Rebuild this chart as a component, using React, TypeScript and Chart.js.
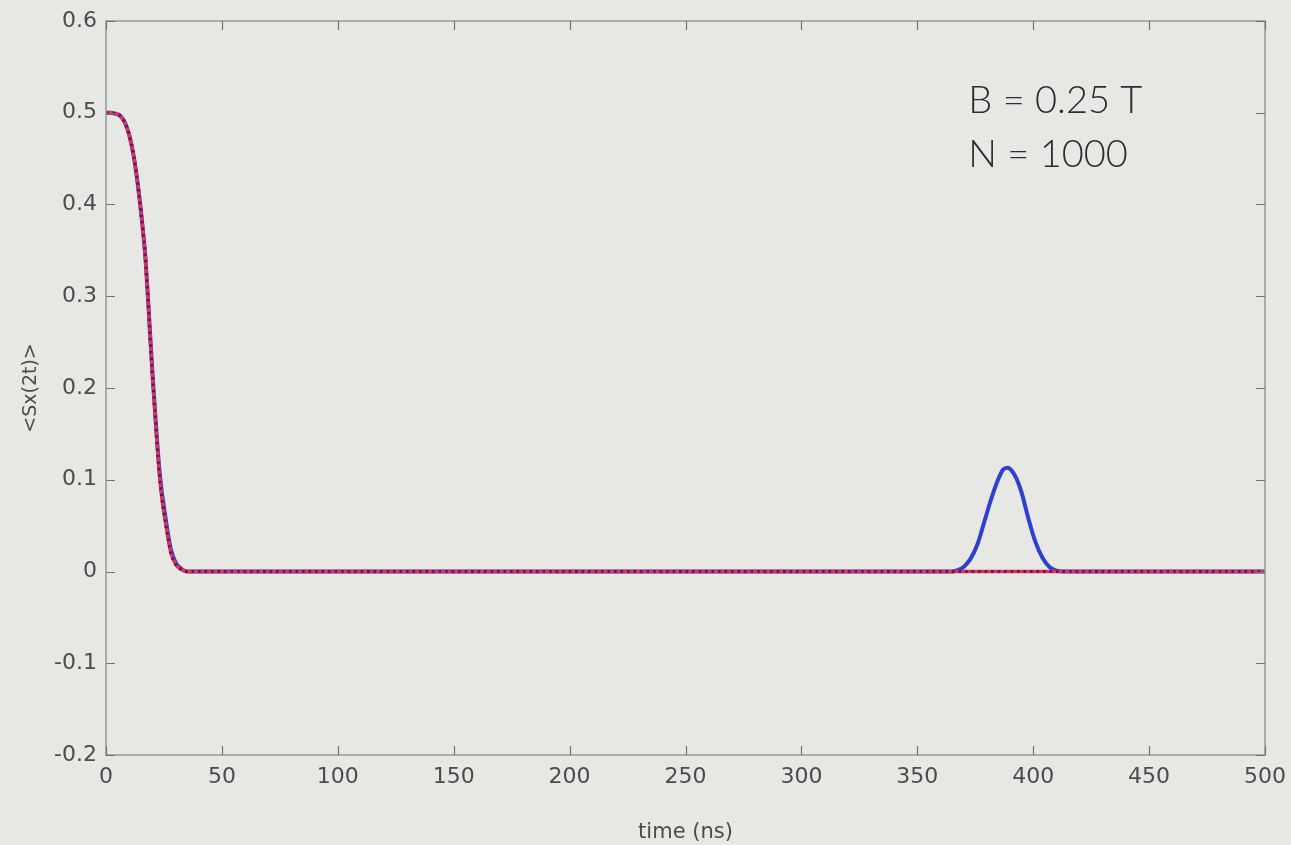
import React, { useEffect, useRef } from "react";
import { Chart, registerables } from "chart.js";

Chart.register(...registerables);

// ---- data ----
const timeDecay = [0, 2, 4, 6, 8, 10, 12, 14, 16, 17, 18, 19, 20, 21, 22, 23, 24, 25, 26, 27, 28, 30, 32, 35];
const sxDecayExact = [0.5, 0.5, 0.499, 0.497, 0.49, 0.476, 0.452, 0.416, 0.37, 0.342, 0.302, 0.258, 0.215, 0.178, 0.14, 0.107, 0.082, 0.064, 0.048, 0.033, 0.02, 0.008, 0.003, 0];
const sxDecayApprox = [0.5, 0.5, 0.499, 0.497, 0.49, 0.476, 0.452, 0.416, 0.37, 0.342, 0.303, 0.26, 0.218, 0.181, 0.144, 0.112, 0.088, 0.07, 0.053, 0.037, 0.024, 0.01, 0.004, 0];
const timeRevival = [365, 368, 370, 373, 376, 379, 382, 385, 387, 389, 391, 393, 395, 398, 401, 404, 407, 410, 413];
const sxRevival = [0, 0.002, 0.005, 0.014, 0.03, 0.055, 0.08, 0.101, 0.111, 0.113, 0.109, 0.1, 0.086, 0.057, 0.032, 0.015, 0.005, 0.001, 0];
const timeEnd = 500;
const sxEnd = 0;

const xMin = 0;
const xMax = 500;
const xStep = 50;
const yMin = -0.2;
const yMax = 0.6;
const yStep = 0.1;

const xTitle = "time (ns)";
const yTitle = "<Sx(2t)>";
const annotationLines = ["B = 0.25 T", "N = 1000"];
const annotationX = 372;
const annotationY = [0.5, 0.441];

const BG = "#e7e8e4";

const axesBoxPlugin = {
  id: "axesBox",
  afterDraw(chart: any) {
    const { ctx, chartArea, scales } = chart;
    const { left, right, top, bottom } = chartArea;
    const xs = scales.x;
    const ys = scales.y;
    ctx.save();
    // box
    ctx.strokeStyle = "#979c9e";
    ctx.lineWidth = 1.6;
    ctx.strokeRect(left, top, right - left, bottom - top);
    // inward ticks
    ctx.strokeStyle = "#6f7374";
    ctx.lineWidth = 1.2;
    const tl = 9;
    ctx.beginPath();
    xs.ticks.forEach((t: any) => {
      const px = Math.round(xs.getPixelForValue(t.value)) + 0.5;
      ctx.moveTo(px, bottom);
      ctx.lineTo(px, bottom - tl);
      ctx.moveTo(px, top);
      ctx.lineTo(px, top + tl);
    });
    ys.ticks.forEach((t: any) => {
      const py = Math.round(ys.getPixelForValue(t.value)) + 0.5;
      ctx.moveTo(left, py);
      ctx.lineTo(left + tl, py);
      ctx.moveTo(right, py);
      ctx.lineTo(right - tl, py);
    });
    ctx.stroke();
    // annotation
    ctx.fillStyle = "#2a2e33";
    ctx.font = "300 38px Lato";
    ctx.textBaseline = "alphabetic";
    ctx.textAlign = "left";
    annotationLines.forEach((line, i) => {
      ctx.fillText(line, xs.getPixelForValue(annotationX), ys.getPixelForValue(annotationY[i]));
    });
    ctx.restore();
  },
};

export default function App() {
  const canvasRef = useRef<HTMLCanvasElement | null>(null);

  useEffect(() => {
    const canvas = canvasRef.current;
    if (!canvas) return;

    const decayExact = timeDecay.map((t, i) => ({ x: t, y: sxDecayExact[i] }));
    const decayApprox = timeDecay.map((t, i) => ({ x: t, y: sxDecayApprox[i] }));
    const revival = timeRevival.map((t, i) => ({ x: t, y: sxRevival[i] }));

    const redData = [...decayExact, { x: timeEnd, y: sxEnd }];
    const blueData = [...decayApprox, ...revival, { x: timeEnd, y: sxEnd }];

    const chart = new Chart(canvas, {
      type: "line",
      data: {
        datasets: [
          {
            label: "exact dots",
            data: redData,
            borderColor: "#3b2379",
            borderWidth: 3,
            borderDash: [2.5, 4],
            pointRadius: 0,
            cubicInterpolationMode: "monotone",
            fill: false,
            order: 0,
          },
          {
            label: "exact",
            data: redData,
            borderColor: "#ec2f4b",
            borderWidth: 3.5,
            pointRadius: 0,
            cubicInterpolationMode: "monotone",
            fill: false,
            order: 1,
          },
          {
            label: "approx",
            data: blueData,
            borderColor: "#2f3fd0",
            borderWidth: 4,
            pointRadius: 0,
            cubicInterpolationMode: "monotone",
            fill: false,
            order: 2,
          },
        ],
      },
      options: {
        animation: false,
        responsive: false,
        devicePixelRatio: 1,
        parsing: false,
        layout: { padding: { top: 21, right: 26, left: 0, bottom: 0 } },
        plugins: {
          legend: { display: false },
          tooltip: { enabled: false },
        },
        scales: {
          x: {
            type: "linear",
            min: xMin,
            max: xMax,
            grid: { display: false, drawTicks: false },
            border: { display: false },
            ticks: {
              stepSize: xStep,
              color: "#4a4c4d",
              font: { family: "DejaVu Sans", size: 22 },
              padding: 9,
              maxRotation: 0,
            },
            title: {
              display: true,
              text: xTitle,
              color: "#4a4c4d",
              font: { family: "DejaVu Sans", size: 21 },
              padding: { top: 0, bottom: 0 },
            },
            afterFit: (s: any) => {
              s.height = 90;
              s.paddingRight = 0;
              s.paddingLeft = 0;
            },
          },
          y: {
            type: "linear",
            min: yMin,
            max: yMax,
            grid: { display: false, drawTicks: false },
            border: { display: false },
            ticks: {
              stepSize: yStep,
              color: "#4a4c4d",
              font: { family: "DejaVu Sans", size: 22 },
              padding: 9,
            },
            title: {
              display: true,
              text: yTitle,
              color: "#4a4c4d",
              font: { family: "DejaVu Sans", size: 19 },
              padding: { top: 20, bottom: 0 },
            },
            afterFit: (s: any) => {
              s.width = 106;
              s.paddingTop = 0;
              s.paddingBottom = 0;
            },
          },
        },
      },
      plugins: [axesBoxPlugin],
    } as any);

    return () => {
      chart.destroy();
    };
  }, []);

  return (
    <div
      style={{
        position: "absolute",
        left: 0,
        top: 0,
        width: 1291,
        height: 845,
        background: BG,
        overflow: "hidden",
      }}
    >
      <canvas ref={canvasRef} width={1291} height={845} style={{ display: "block" }} />
    </div>
  );
}
